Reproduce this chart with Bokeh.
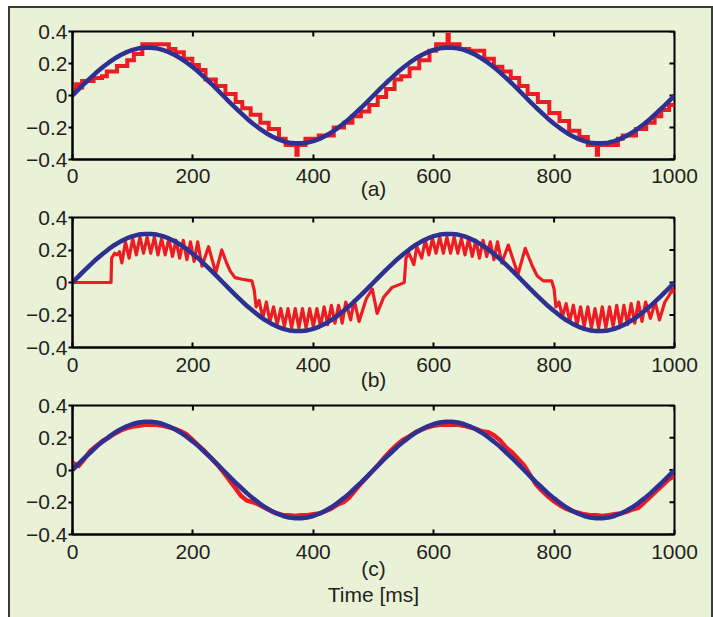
import math
from bokeh.plotting import figure
from bokeh.models import Range1d, FixedTicker, Spacer, Title, ColumnDataSource
from bokeh.layouts import column, row
from bokeh.embed import file_html
from bokeh.resources import INLINE

BG = "#e9f1d6"
BLUE = "#2e3192"
RED = "#ed1c24"
INK = "#231f20"
FRAME = "#3a3a3a"
FONT = "Liberation Sans"

# ---------------- data ----------------
x_ticks = [0, 200, 400, 600, 800, 1000]
y_ticks = [-0.4, -0.2, 0, 0.2, 0.4]
y_labels = {-0.4: "\u22120.4", -0.2: "\u22120.2", 0: "0", 0.2: "0.2", 0.4: "0.4"}
panel_labels = ["(a)", "(b)", "(c)"]
x_title = "Time [ms]"

# reference (blue) trajectory, sampled every 10 ms
ref_t = list(range(0, 1001, 10))
ref_v = [0, .038, .075, .110, .145, .176, .205, .231, .253, .271, .285, .295, .299,
         .299, .295, .285, .271, .253, .231, .205, .176, .145, .110, .075, .038, 0,
         -.038, -.075, -.110, -.145, -.176, -.205, -.231, -.253, -.271, -.285, -.295, -.299,
         -.299, -.295, -.285, -.271, -.253, -.231, -.205, -.176, -.145, -.110, -.075, -.038, 0,
         .038, .075, .110, .145, .176, .205, .231, .253, .271, .285, .295, .299,
         .299, .295, .285, .271, .253, .231, .205, .176, .145, .110, .075, .038, 0,
         -.038, -.075, -.110, -.145, -.176, -.205, -.231, -.253, -.271, -.285, -.295, -.299,
         -.299, -.295, -.285, -.271, -.253, -.231, -.205, -.176, -.145, -.110, -.075, -.038, 0]

# panel (a): quantised (staircase) response, step start times and levels
a_t = [0, 6, 11, 16, 35, 49, 57, 74, 91, 102, 116, 160, 171, 185, 199, 210, 221, 238,
       254, 271, 282, 296, 312, 326, 343, 354, 372, 374, 387, 409, 434, 451, 465, 479,
       493, 507, 521, 535, 546, 560, 576, 593, 604, 623, 625, 643, 659, 684, 700, 714,
       728, 742, 756, 773, 792, 809, 825, 842, 856, 871, 873, 906, 914, 936, 953, 967,
       978, 991, 1000]
a_v = [0.04, 0.07, 0.05, 0.09, 0.11, 0.12, 0.15, 0.185, 0.22, 0.26, 0.32, 0.29, 0.27,
       0.23, 0.19, 0.16, 0.10, 0.06, 0.01, -0.04, -0.08, -0.12, -0.17, -0.21, -0.27,
       -0.31, -0.37, -0.31, -0.27, -0.25, -0.20, -0.17, -0.13, -0.10, -0.06, -0.01,
       0.04, 0.10, 0.12, 0.17, 0.22, 0.28, 0.32, 0.38, 0.32, 0.29, 0.28, 0.23, 0.18,
       0.15, 0.11, 0.06, 0.01, -0.04, -0.11, -0.16, -0.22, -0.26, -0.31, -0.37, -0.31,
       -0.27, -0.25, -0.21, -0.17, -0.13, -0.09, -0.06, -0.06]

# panel (b): oscillating response
b_t = [0, 64, 65, 70, 74, 78, 82, 88, 94, 100, 106, 112, 118, 124, 130, 136, 142, 148,
       154, 160, 166, 172, 178, 184, 190, 196, 202, 208, 215, 226, 238, 248, 256, 262,
       270, 282, 298, 302, 305, 310, 316, 322, 328, 334, 340, 346, 352, 358, 364, 370,
       376, 382, 388, 394, 400, 406, 412, 418, 424, 430, 436, 442, 448, 454, 462, 468,
       476, 488, 498, 506, 517, 531, 545, 551, 554, 559, 567, 572, 580, 586, 592, 598,
       604, 610, 616, 622, 628, 634, 640, 646, 652, 658, 664, 670, 676, 682, 688, 694,
       700, 706, 713, 724, 740, 752, 764, 772, 782, 796, 800, 803, 808, 814, 820, 826,
       832, 838, 844, 850, 856, 862, 868, 874, 880, 886, 892, 898, 904, 910, 916, 922,
       928, 934, 940, 946, 952, 960, 968, 975, 984, 991, 997, 1000]
b_v = [0, 0, 0.15, 0.18, 0.17, 0.19, 0.12, 0.25, 0.15, 0.27, 0.17, 0.28, 0.18, 0.28,
       0.18, 0.28, 0.17, 0.27, 0.17, 0.27, 0.16, 0.26, 0.15, 0.26, 0.14, 0.25, 0.13,
       0.25, 0.10, 0.22, 0.06, 0.20, 0.12, 0.07, 0.03, 0.02, 0.01, -0.05, -0.15, -0.11,
       -0.22, -0.12, -0.24, -0.15, -0.26, -0.16, -0.27, -0.16, -0.28, -0.16, -0.28,
       -0.16, -0.28, -0.16, -0.27, -0.16, -0.27, -0.15, -0.26, -0.14, -0.25, -0.14,
       -0.25, -0.12, -0.23, -0.11, -0.24, -0.10, -0.04, -0.19, -0.09, -0.03, -0.01,
       0.00, 0.15, 0.18, 0.11, 0.22, 0.15, 0.26, 0.17, 0.27, 0.18, 0.28, 0.18, 0.28,
       0.18, 0.28, 0.18, 0.27, 0.17, 0.27, 0.16, 0.26, 0.15, 0.26, 0.16, 0.25, 0.14,
       0.25, 0.12, 0.23, 0.05, 0.21, 0.10, 0.04, 0.01, 0.01, -0.04, -0.15, -0.12,
       -0.21, -0.13, -0.24, -0.14, -0.26, -0.15, -0.27, -0.15, -0.28, -0.16, -0.28,
       -0.15, -0.28, -0.15, -0.27, -0.14, -0.27, -0.14, -0.26, -0.13, -0.25, -0.12,
       -0.24, -0.12, -0.22, -0.12, -0.23, -0.12, -0.08, -0.04, -0.07]

# panel (c): close tracking, sampled every 10 ms
c_t = list(range(0, 1001, 10))
c_v = [0.045, 0.025, 0.07, 0.12, 0.15, 0.18, 0.20, 0.225, 0.245, 0.26, 0.27,
       0.275, 0.28, 0.28, 0.28, 0.275, 0.265, 0.255, 0.24, 0.22, 0.185,
       0.15, 0.115, 0.075, 0.035, -0.01, -0.06, -0.11, -0.16, -0.19, -0.20,
       -0.215, -0.235, -0.255, -0.27, -0.28, -0.28, -0.285, -0.28, -0.28, -0.275,
       -0.27, -0.255, -0.24, -0.215, -0.20, -0.17, -0.125, -0.08, -0.04, 0.0,
       0.04, 0.085, 0.125, 0.16, 0.19, 0.21, 0.235, 0.25, 0.265, 0.275,
       0.28, 0.28, 0.28, 0.28, 0.275, 0.265, 0.255, 0.24, 0.235, 0.215,
       0.185, 0.14, 0.11, 0.07, 0.03, -0.03, -0.09, -0.13, -0.165, -0.195,
       -0.22, -0.24, -0.255, -0.265, -0.275, -0.28, -0.28, -0.285, -0.28, -0.275,
       -0.27, -0.26, -0.245, -0.235, -0.20, -0.165, -0.13, -0.095, -0.06, -0.035]

assert len(a_t) == len(a_v) and len(b_t) == len(b_v) and len(c_t) == len(c_v) and len(ref_t) == len(ref_v)

# ---------------- layout helpers ----------------
FS = "21px"


def make_panel(height, top, bottom, label, tick_standoff, label_standoff):
    p = figure(width=701, height=height, x_range=Range1d(0, 1000), y_range=Range1d(-0.4, 0.4),
               output_backend="svg", toolbar_location=None,
               min_border_left=62, min_border_right=37, min_border_top=top, min_border_bottom=bottom,
               background_fill_color=BG, border_fill_color=BG,
               outline_line_color="black", outline_line_width=2)
    p.grid.visible = False
    for ax in (p.xaxis[0], p.yaxis[0]):
        ax.axis_line_width = 2
        ax.axis_line_color = "black"
        ax.major_tick_line_width = 2
        ax.major_tick_line_color = "black"
        ax.minor_tick_line_color = None
        ax.major_label_text_font = FONT
        ax.major_label_text_font_size = FS
        ax.major_label_text_color = INK
    xa = p.xaxis[0]
    xa.ticker = FixedTicker(ticks=x_ticks)
    xa.major_tick_in = 5
    xa.major_tick_out = 0
    xa.major_label_standoff = tick_standoff
    xa.axis_label = label
    xa.axis_label_text_font = FONT
    xa.axis_label_text_font_size = FS
    xa.axis_label_text_font_style = "normal"
    xa.axis_label_text_color = INK
    xa.axis_label_standoff = label_standoff
    ya = p.yaxis[0]
    ya.ticker = FixedTicker(ticks=y_ticks)
    ya.major_label_overrides = y_labels
    ya.major_tick_in = 0
    ya.major_tick_out = 4
    ya.major_label_standoff = 1
    # inner ticks on the top and right edges (half of each dash is clipped by the frame)
    p.scatter(x=x_ticks, y=[y_ticks[-1]] * len(x_ticks), marker="dash", angle=math.pi / 2,
              size=10, line_color="black", line_width=2)
    p.scatter(x=[x_ticks[-1]] * len(y_ticks), y=y_ticks, marker="dash",
              size=10, line_color="black", line_width=2)
    return p


p1 = make_panel(198, 23, 47, panel_labels[0], 9, -9)
p1.step(x="t", y="v", source=ColumnDataSource(dict(t=a_t, v=a_v)), mode="after",
        line_color=RED, line_width=4, line_join="miter")
p1.line(ref_t, ref_v, line_color=BLUE, line_width=4.5)

p2 = make_panel(189, 11, 48, panel_labels[1], 10, -7)
p2.line(b_t, b_v, line_color=RED, line_width=3.2, line_join="round")
p2.line(ref_t, ref_v, line_color=BLUE, line_width=4.5)

p3 = make_panel(222, 10, 83, panel_labels[2], 10, -5)
p3.line(c_t, c_v, line_color=RED, line_width=4.5, line_join="round")
p3.line(ref_t, ref_v, line_color=BLUE, line_width=4.5)
t3 = Title(text=x_title, align="center", text_font=FONT, text_font_size=FS,
           text_font_style="normal", text_color=INK, standoff=-3)
p3.add_layout(t3, "below")

panels = column(p1, p2, p3, spacing=0, styles={"background-color": BG})
edge_l = Spacer(width=2, height=609, styles={"background-color": FRAME})
edge_r = Spacer(width=2, height=609, styles={"background-color": FRAME})
top_line = row(Spacer(width=8, height=2), Spacer(width=705, height=2, styles={"background-color": FRAME}), spacing=0)
main = row(Spacer(width=8, height=609), edge_l, panels, edge_r, spacing=0)
page = column(Spacer(width=713, height=6), top_line, main, spacing=0)

open("out.html", "w").write(file_html(page, INLINE))
